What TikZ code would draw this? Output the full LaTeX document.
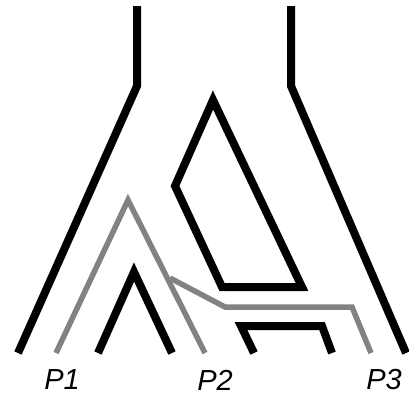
\documentclass[tikz,border=0pt]{standalone}
\usepackage{fontspec}
\setmainfont{Liberation Sans}
\begin{document}
\begin{tikzpicture}[x=1pt,y=-1pt,
  blk/.style={draw=black,line width=8pt,line join=miter},
  gry/.style={draw=gray!98,line width=5.5pt,line join=miter},
  lbl/.style={font=\fontsize{29}{29}\selectfont\itshape,inner sep=0pt}]
\useasboundingbox (0,0) rectangle (409,397);
% outer branches
\coordinate (lt) at (137,6);
\coordinate (lk) at (137,86);
\coordinate (lb) at (18,353);
\coordinate (rt) at (291,6);
\coordinate (rk) at (291,86);
\coordinate (rb) at (406,353);
\draw[blk] (lt) -- (lk) -- (lb);
\draw[blk] (rt) -- (rk) -- (rb);
% inner quadrilateral
\coordinate (qa) at (213,100);
\coordinate (qb) at (175,186);
\coordinate (qc) at (222,287);
\coordinate (qd) at (302,287);
\draw[blk] (qa) -- (qb) -- (qc) -- (qd) -- cycle;
% small lambda
\coordinate (ma) at (134,272);
\coordinate (ml) at (98,353);
\coordinate (mr) at (172,353);
\draw[blk] (ml) -- (ma) -- (mr);
% lower bracket
\coordinate (ba) at (254,353);
\coordinate (bb) at (241,326);
\coordinate (bc) at (322,326);
\coordinate (bd) at (332,353);
\draw[blk] (ba) -- (bb) -- (bc) -- (bd);
% gray path
\coordinate (g1) at (56,353);
\coordinate (g2) at (128,200);
\coordinate (g3) at (205,353);
\coordinate (gs) at (170,278);
\coordinate (g4) at (225,307);
\coordinate (g5) at (352,307);
\coordinate (g6) at (371,353);
\draw[gry] (g1) -- (g2) -- (g3);
\draw[gry] (gs) -- (g4) -- (g5) -- (g6);
% labels
\node[lbl] (p1) at (62,380) {P1};
\node[lbl] (p2) at (215,380) {P2};
\node[lbl] (p3) at (384,380) {P3};
\end{tikzpicture}
\end{document}
